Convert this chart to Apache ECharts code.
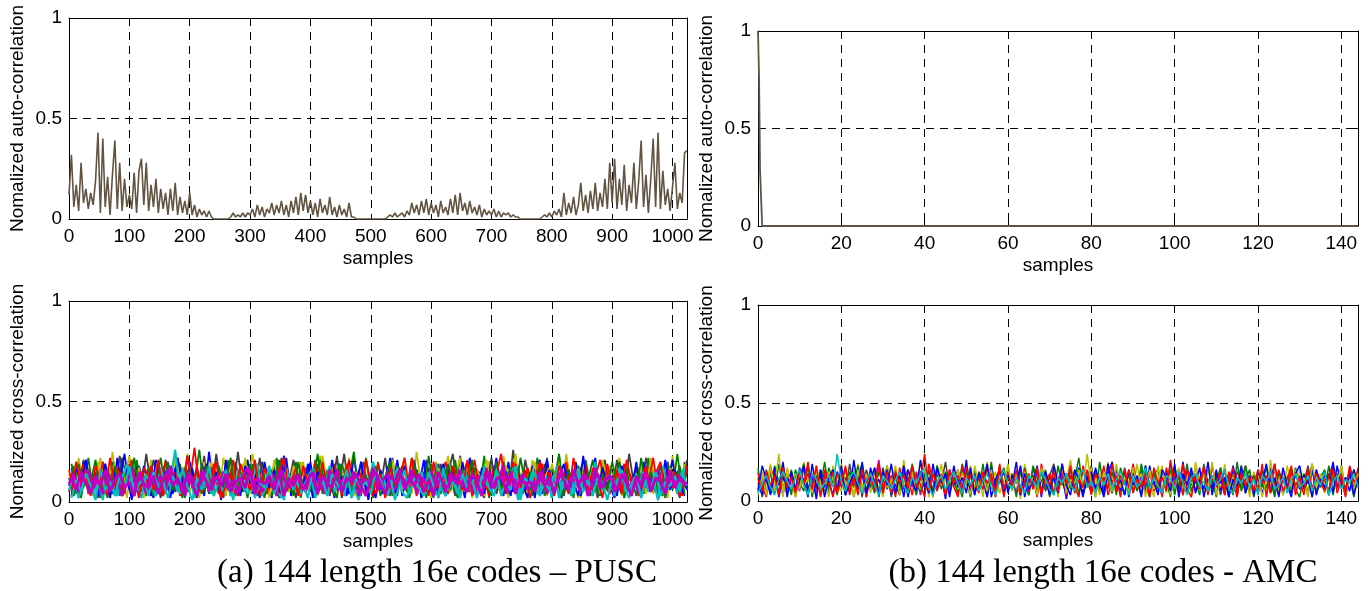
<!DOCTYPE html>
<html><head><meta charset="utf-8">
<script src="https://cdn.jsdelivr.net/npm/echarts@6/dist/echarts.min.js"></script>
<style>html,body{margin:0;padding:0;background:#fff}#c{width:1369px;height:591px}</style>
</head><body><div id="c"></div>
<script>
// ---------------- DATA ----------------
// (a) PUSC auto-correlation, one value every 4 samples (0..1024)
const autoPUSCStep = 4;
const autoPUSC = [
0.12,0.32,0.06,0.17,0.04,0.28,0.08,0.15,0.05,0.13,0.07,0.19,0.43,0.03,0.40,0.06,0.21,0.02,0.22,0.39,0.05,0.28,0.04,0.20,0.06,
0.12,0.05,0.23,0.03,0.24,0.30,0.07,0.28,0.04,0.17,0.06,0.20,0.03,0.15,0.05,0.13,0.02,0.15,0.04,0.18,0.02,0.11,0.03,0.09,0.02,
0.13,0.02,0.07,0.01,0.05,0.02,0.04,0.01,0.04,0.01,0.00,0.00,0.00,0.00,0.00,0.00,0.00,0.01,0.03,0.01,0.02,0.01,0.03,0.01,0.03,
0.02,0.05,0.01,0.07,0.02,0.06,0.01,0.05,0.03,0.08,0.02,0.07,0.03,0.09,0.02,0.07,0.01,0.09,0.03,0.11,0.02,0.13,0.04,0.12,0.03,
0.09,0.02,0.08,0.01,0.10,0.03,0.07,0.02,0.11,0.02,0.06,0.01,0.07,0.02,0.05,0.01,0.08,0.01,0.01,0.00,0.00,0.00,0.00,0.00,0.00,
0.00,0.00,0.00,0.00,0.00,0.00,0.00,0.01,0.02,0.01,0.03,0.01,0.02,0.03,0.01,0.04,0.02,0.08,0.03,0.07,0.02,0.09,0.03,0.10,0.02,
0.08,0.03,0.07,0.01,0.09,0.03,0.06,0.02,0.10,0.03,0.12,0.02,0.13,0.04,0.08,0.02,0.09,0.03,0.06,0.02,0.07,0.01,0.05,0.02,0.04,
0.02,0.05,0.01,0.04,0.01,0.03,0.02,0.03,0.01,0.02,0.01,0.01,0.00,0.00,0.00,0.00,0.00,0.00,0.00,0.00,0.00,0.01,0.02,0.01,0.03,
0.01,0.04,0.02,0.05,0.01,0.13,0.02,0.08,0.03,0.11,0.02,0.07,0.18,0.04,0.12,0.03,0.14,0.05,0.18,0.04,0.13,0.06,0.20,0.05,0.28,
0.08,0.30,0.05,0.20,0.07,0.27,0.04,0.17,0.08,0.28,0.05,0.19,0.39,0.06,0.22,0.03,0.20,0.40,0.06,0.43,0.05,0.24,0.07,0.15,0.04,
0.16,0.28,0.05,0.13,0.08,0.33,0.34
];

// (b) AMC auto-correlation
const autoAMCx = [0, 0.25, 0.5, 1, 144];
const autoAMCy = [1, 0.77, 0.28, 0, 0];

// (a) PUSC cross-correlation, values in hundredths.
// batch 1: samples 0,8,16,...,1024 ; batch 2: samples 4,12,20,...,1020
const crossPUSCStep = 8;
const crossPUSC2Start = 4;
const crossPUSC_k = [5,18,3,21,9,14,2,20,7,16,4,22,11,3,19,6, 24,8,13,2,21,10,5,17,3,20,12,6,23,4,15,9, 2,19,7,25,5,14,11,3,20,8,16,4,22,6,13,2, 18,10,5,21,7,15,3,19,9,24,4,12,6,20,2,17, 8,14,5,22,3,18,11,6,16,2,21,9,4,19,7,13, 3,23,10,5,17,8,2,20,12,6,15,4,26,7,11,3, 19,9,5,22,2,16,8,13,4,20,6,18,3,12,10,21, 5,7,17,2,24,9,14,4,19,6,11,3,20,8,15,5, 21];
const crossPUSC_y = [14,4,22,8,17,3,20,11,5,25,7,16,2,19,9,13, 4,21,6,15,10,3,23,8,18,5,12,2,20,7,16,4, 22,9,13,3,19,6,24,10,4,17,8,21,3,14,11,5, 20,7,16,2,23,9,12,4,18,6,22,3,15,10,5,19, 8,13,3,21,6,17,11,4,25,7,14,2,20,9,16,5, 12,22,4,18,8,15,3,20,10,6,23,2,17,9,13,4, 21,7,14,3,19,11,5,24,8,16,2,20,6,13,10,4, 18,9,22,3,15,7,12,5,20,4,17,11,2,23,8,14, 6];
const crossPUSC_b = [8,16,2,20,6,12,3,18,9,4,22,7,14,1,19,5, 11,3,21,8,15,2,17,10,4,20,6,13,3,25,7,12, 5,19,2,14,9,21,4,16,6,11,2,18,8,22,3,13, 10,5,20,3,15,7,12,2,19,9,4,23,6,14,1,17, 11,4,18,7,21,3,13,8,16,2,20,5,10,14,3,19, 6,12,2,22,9,15,4,17,7,11,3,20,5,14,8,2, 18,10,4,21,6,13,2,16,9,19,3,12,7,22,4,15, 8,2,19,11,5,14,3,20,7,16,1,12,9,21,4,13, 6];
const crossPUSC_g = [12,3,19,7,22,5,14,9,2,20,11,4,17,6,21,8, 3,16,10,22,4,13,7,19,2,15,9,26,5,12,3,18, 8,21,4,14,11,2,19,6,16,9,3,22,7,13,5,20, 2,17,10,4,21,8,15,3,19,6,12,25,4,16,9,2, 20,7,14,3,18,11,5,22,8,13,2,19,10,4,16,6, 21,3,12,9,17,5,23,2,15,8,20,4,11,18,6,13, 3,22,9,5,16,12,2,19,7,14,4,21,8,11,3,18, 10,5,20,2,14,9,17,4,22,7,12,3,19,6,24,5, 15];
const crossPUSC_r = [16,6,11,19,4,14,8,20,3,13,17,7,10,21,5,15, 9,18,4,12,20,6,15,3,17,10,27,5,13,8,19,4, 14,7,21,3,11,16,6,19,9,4,15,12,20,5,10,17, 3,13,8,20,6,14,4,18,11,7,21,5,16,9,12,3, 19,8,15,4,17,10,6,22,3,13,9,18,5,11,20,7, 14,4,16,9,21,6,12,3,18,8,15,5,20,10,4,17, 7,13,19,4,11,16,6,20,3,14,9,18,5,12,21,8, 4,15,10,19,6,13,3,17,9,22,5,11,16,7,14,3, 18];
const crossPUSC_c = [6,13,2,9,16,4,11,1,15,7,3,12,19,5,10,2, 14,8,3,17,6,11,26,4,9,15,2,12,7,18,3,10, 5,13,1,16,8,4,11,19,3,9,14,6,2,17,7,12, 4,10,15,2,13,8,18,5,11,3,16,7,1,12,9,20, 6,14,3,10,17,5,2,12,8,15,4,11,19,7,3,13, 9,2,16,6,12,4,18,8,3,14,10,5,17,1,11,7, 15,4,9,13,2,18,6,11,3,16,8,12,5,20,4,10, 14,3,17,7,2,12,9,15,5,11,1,18,6,13,4,16, 8];
const crossPUSC_m = [9,14,5,12,16,7,11,4,15,8,13,3,10,17,6,12, 4,15,9,13,6,18,8,11,3,14,10,7,16,5,12,9, 15,6,11,4,13,17,8,12,5,10,14,3,16,9,7,13, 10,5,14,8,12,4,16,11,6,13,9,15,3,12,8,17, 6,11,14,5,9,13,7,16,4,12,10,15,8,11,5,14, 9,16,6,12,4,13,10,15,7,11,18,5,12,8,14,6, 11,7,15,4,13,9,16,6,12,10,5,14,8,17,7,11, 13,5,10,15,7,12,4,14,9,11,16,6,13,8,12,10, 9];
const crossPUSC2_k = [17,4,12,20,6,15,2,19,10,5,23,8,13,3,18,9, 6,21,11,3,16,7,22,4,14,9,2,19,12,5,24,8, 13,3,20,7,16,10,4,22,6,12,18,2,15,9,21,5, 11,17,3,19,8,14,5,23,2,16,10,6,20,13,4,18, 7,22,3,12,17,9,4,21,6,15,11,2,19,8,14,24, 5,13,20,3,16,10,7,22,4,12,18,6,15,2,21,9, 14,4,19,11,6,23,3,16,8,13,20,5,12,2,18,10, 6,21,4,15,9,17,3,22,11,5,14,19,7,12,2,20];
const crossPUSC2_y = [9,20,5,16,11,3,22,7,14,19,4,12,23,6,17,2, 15,10,21,4,13,8,18,3,24,9,16,6,11,20,5,14, 3,19,12,7,22,4,15,10,17,2,21,8,13,5,18,11, 20,6,14,3,23,9,17,5,12,19,2,15,8,21,4,16, 10,3,18,13,6,22,8,15,4,20,11,3,17,7,23,9, 14,5,19,2,16,11,21,6,13,3,18,9,24,4,15,8, 20,3,12,17,7,22,5,14,10,2,19,8,16,4,21,11, 6,15,3,20,9,13,18,4,22,7,11,2,17,10,5,19];
const crossPUSC2_b = [3,17,10,21,5,13,8,19,2,15,11,24,6,12,4,18, 9,2,20,7,14,4,22,10,5,17,3,12,19,8,15,1, 21,6,11,3,18,9,14,2,20,7,16,4,23,10,5,13, 8,19,2,15,11,4,21,6,13,3,17,9,20,5,12,2, 16,7,22,4,10,18,3,14,8,21,5,12,2,19,9,15, 4,20,7,13,2,17,10,5,22,8,15,3,18,11,6,14, 2,21,9,16,4,12,19,6,10,3,23,7,14,5,17,8, 13,3,18,10,5,20,2,15,8,12,4,21,6,16,9,3];
const crossPUSC2_g = [19,8,2,16,10,21,4,13,7,18,3,15,9,22,5,11, 17,3,14,8,20,6,12,2,23,9,16,4,18,7,13,5, 10,22,3,15,7,19,5,12,2,17,9,21,6,14,3,20, 6,13,9,24,4,16,8,2,19,11,5,14,3,22,7,17, 3,12,20,6,15,9,2,18,11,4,23,7,13,5,19,10, 2,16,8,21,5,14,10,3,20,6,12,17,4,22,9,15, 7,19,3,13,10,24,5,16,2,18,8,11,21,4,14,6, 20,9,4,17,12,3,22,7,15,5,19,2,13,10,18,4];
const crossPUSC2_r = [5,20,9,14,3,18,11,6,22,8,15,4,19,12,2,17, 13,6,21,3,16,9,12,4,23,7,18,5,14,10,20,2, 8,15,4,19,12,6,21,3,17,10,5,14,22,7,13,3, 18,9,15,4,20,6,11,16,3,19,8,13,5,21,10,4, 14,2,17,9,12,22,5,16,7,11,3,20,8,15,4,18, 10,6,21,3,14,9,17,5,13,24,4,11,19,7,16,2, 12,20,6,15,3,18,10,4,22,8,13,5,17,11,2,19, 7,16,4,21,9,12,3,18,6,14,20,5,10,15,3,17];
const crossPUSC2_c = [2,11,5,14,8,1,16,6,10,3,13,7,18,4,9,12, 3,15,7,10,2,13,5,17,8,1,12,6,14,4,11,9, 16,3,9,12,5,15,2,10,7,18,4,11,1,14,6,13, 8,2,17,5,11,3,14,9,6,16,2,12,7,10,4,15, 11,5,13,1,9,16,4,12,7,3,15,8,2,17,6,10, 4,14,7,11,2,13,9,5,16,3,10,6,18,1,12,8, 15,3,10,6,14,2,12,8,4,17,5,11,3,13,9,1, 12,7,16,4,9,14,2,11,6,15,3,10,8,13,5,17];
const crossPUSC2_m = [12,6,15,9,4,13,8,16,5,11,14,7,10,3,15,9, 7,13,4,11,16,8,12,5,14,9,3,15,10,6,13,8, 14,5,10,12,7,16,4,11,9,13,6,15,3,12,8,14, 6,11,15,4,13,9,7,16,5,12,10,14,8,3,11,15, 9,4,13,10,16,6,12,8,14,5,11,3,15,9,7,13, 12,8,5,14,10,3,16,7,11,13,6,15,4,12,9,10, 5,15,8,12,4,14,11,6,16,9,13,3,10,14,7,12, 11,6,14,9,3,13,8,15,5,12,10,4,16,7,13,8];

// (b) AMC cross-correlation, values in hundredths, one value per sample (0..144)
const crossAMCStep = 1;
const crossAMC_k = [12,4,16,7,14,3,17,9,5,15,8,18,4,13,6,16, 10,3,15,8,12,5,19,7,14,2,16,9,11,4,17,6, 13,8,3,15,10,18,5,12,7,16,4,14,9,20,6,11, 3,17,8,13,5,15,10,2,18,7,12,4,16,9,14,6, 11,3,17,8,15,5,13,19,6,10,3,16,8,14,4,12, 18,7,11,4,15,9,13,3,17,6,12,8,16,5,14,10, 4,15,7,19,9,12,3,16,8,13,5,17,10,6,14,3, 12,8,16,5,11,18,4,14,9,13,6,17,3,15,10,7, 16,5,13,9,18,4,11,7,15,3,14,8,12,6,17,9, 10];
const crossAMC_y = [6,13,3,17,8,24,5,14,10,2,16,7,12,4,18,9, 3,15,11,6,19,8,13,2,16,5,12,9,17,4,14,7, 10,18,3,12,7,15,5,20,9,13,2,16,8,11,4,17, 6,14,10,3,18,8,12,5,16,2,13,9,19,6,11,4, 15,7,12,3,17,10,8,14,5,18,4,11,9,16,6,24, 8,13,3,15,10,5,19,7,12,4,17,9,14,2,16,6, 11,18,4,13,8,15,3,12,9,17,5,14,7,20,3,10, 16,6,12,9,18,4,13,7,15,2,11,8,17,5,14,10, 4,16,8,12,3,19,7,13,10,5,15,9,18,4,11,6, 14];
const crossAMC_b = [9,3,14,6,17,2,12,8,15,4,11,18,5,13,1,16, 7,10,3,15,9,12,4,21,6,14,2,17,8,11,5,16, 3,13,9,18,2,12,6,15,10,4,19,7,13,1,16,8, 11,5,21,3,14,8,12,2,17,6,10,15,4,13,9,18, 2,12,7,16,5,11,3,18,9,14,1,13,8,17,4,10, 15,6,12,3,19,8,11,5,16,2,14,9,13,4,18,7, 10,3,15,8,12,6,20,4,13,9,17,2,11,7,16,5, 12,2,18,9,14,4,11,7,16,3,13,10,19,5,12,8, 2,15,6,13,9,17,3,11,7,14,4,18,8,12,5,16, 9];
const crossAMC_g = [15,7,12,4,18,9,13,3,16,6,11,19,5,14,8,12, 4,17,10,6,13,3,15,9,18,5,12,7,16,2,14,10, 6,13,4,17,8,11,3,15,9,12,5,18,7,14,4,16, 10,2,15,8,13,6,19,4,12,9,16,3,14,7,11,5, 17,9,13,4,15,7,12,3,18,8,14,6,11,22,5,13, 9,16,4,12,7,15,3,17,10,13,5,11,8,18,4,14, 6,12,9,16,3,14,8,19,5,11,7,15,4,13,10,17, 3,14,8,12,6,18,9,13,4,16,7,11,2,15,10,12, 5,17,9,13,4,15,8,11,6,18,3,14,7,12,9,16, 8];
const crossAMC_r = [11,5,15,8,13,3,17,7,12,4,16,9,14,6,18,2, 13,8,15,4,11,17,6,12,3,16,9,14,5,19,7,12, 4,15,9,13,6,18,7,11,24,5,14,8,12,3,16,9, 13,5,17,7,11,4,15,9,14,2,18,6,12,8,16,4, 10,14,6,17,3,12,8,15,5,13,9,18,4,11,7,16, 3,14,9,12,6,19,5,13,8,16,4,11,7,15,2,17, 9,12,5,21,8,14,3,16,10,13,6,18,4,12,9,15, 6,11,17,3,14,8,12,5,16,9,13,4,19,7,11,6, 15,8,12,3,17,6,14,9,11,5,16,7,13,4,18,10, 12];
const crossAMC_c = [4,9,13,7,3,11,15,10,6,12,16,8,3,14,11,6, 9,13,7,24,10,5,12,15,9,4,11,14,8,3,13,10, 6,11,15,8,4,12,9,14,17,7,3,10,13,6,11,15, 9,4,12,8,13,5,10,14,7,3,11,16,9,6,12,8, 4,13,10,7,15,11,6,3,12,9,14,8,5,13,16,7, 10,4,12,8,14,6,11,15,9,3,13,7,10,17,6,12, 8,4,13,11,6,15,9,3,12,14,7,10,5,13,8,11, 16,6,4,12,9,14,7,11,3,13,10,15,6,8,12,4, 11,14,7,9,13,5,12,8,15,3,10,13,6,11,9,14, 7];
const crossAMC_m = [7,12,4,15,9,11,3,14,8,13,5,17,7,10,4,12, 14,6,11,8,16,3,13,9,12,5,15,7,10,21,4,12, 8,14,5,11,16,7,13,3,12,9,15,6,10,14,4,11, 16,7,12,5,13,9,11,3,15,8,14,6,12,10,4,17, 7,11,13,5,10,15,8,12,4,14,9,11,6,16,3,12, 9,14,6,10,13,4,16,8,11,5,15,7,12,9,3,14, 10,6,13,8,15,4,11,9,14,5,12,17,7,10,3,13, 8,12,5,15,9,11,4,14,7,13,6,10,16,3,12,9, 14,6,11,8,13,4,15,9,10,5,12,7,14,3,11,8, 13];
const crossAMC2_y = [3,15,8,19,5,12,2,17,9,14,6,20,4,11,16,7, 13,2,18,9,5,15,11,3,19,7,14,4,16,10,2,18, 8,12,5,21,3,14,10,6,17,2,15,9,19,4,12,7, 16,3,11,18,6,13,2,20,8,15,4,10,17,5,14,1, 19,7,12,3,16,9,5,18,2,13,10,21,6,15,4,11, 17,2,14,8,20,5,12,3,16,9,6,19,4,13,10,2, 18,6,15,3,11,17,7,13,2,20,9,4,16,8,12,5, 19,3,14,10,6,17,2,15,8,12,4,21,7,13,3,18, 9,5,16,11,2,19,7,14,4,12,17,6,10,3,15,8, 13];
const crossAMC2_g = [17,2,10,14,4,19,7,12,3,16,9,5,18,2,13,8, 20,5,11,3,17,8,14,2,12,19,6,10,4,15,9,18, 2,16,7,13,3,19,9,5,14,11,2,18,6,15,8,12, 4,19,10,2,16,7,13,5,20,3,11,17,6,14,2,15, 9,3,18,12,5,16,2,13,8,19,4,11,15,3,17,7, 13,2,20,6,11,4,17,9,3,15,12,5,19,8,2,14, 16,5,10,2,18,7,13,4,15,11,3,19,6,12,2,17, 8,14,3,20,5,11,16,2,13,7,18,4,10,15,3,12, 17,6,2,14,9,19,4,12,16,3,11,7,18,5,13,2, 15];
const crossAMC2_b = [5,18,11,3,14,8,20,2,13,6,17,10,2,19,7,14, 2,12,16,5,18,3,9,14,6,20,4,11,17,3,15,8, 19,4,13,2,16,10,5,21,7,12,3,17,9,14,2,18, 7,12,4,17,3,14,9,19,2,11,16,5,13,8,20,3, 14,6,10,18,2,15,7,12,4,19,8,3,16,11,2,13, 5,17,9,2,14,20,6,11,3,16,8,13,2,18,7,10, 3,16,12,5,19,2,14,8,17,4,11,6,20,3,13,9, 16,2,11,7,18,4,13,3,15,9,19,5,12,2,17,8, 4,14,18,6,11,2,16,9,13,3,20,7,12,5,15,3, 11];
const crossAMC2_r = [14,7,2,17,11,4,19,6,13,2,15,9,20,4,12,3, 16,10,2,14,7,18,3,12,9,17,2,13,6,19,4,15, 11,2,17,6,12,3,15,8,2,19,10,5,14,3,16,7, 2,18,9,14,3,12,6,17,10,4,19,2,15,8,11,3, 16,5,12,2,19,9,14,4,11,17,3,13,7,2,18,10, 4,15,7,18,3,10,13,2,16,6,19,9,3,12,15,5, 11,2,17,8,14,4,19,6,2,13,10,16,3,18,7,12, 3,15,9,2,17,6,13,11,4,19,2,14,8,16,5,10, 18,3,12,7,15,2,16,9,5,13,19,4,11,2,14,6, 17];

// axis / text labels
const yNameAuto = 'Nomalized auto-correlation';
const yNameCross = 'Nomalized cross-correlation';
const xName = 'samples';
const captionA = '(a) 144 length 16e codes \u2013 PUSC';
const captionB = '(b) 144 length 16e codes - AMC';
const xMaxPUSC = 1024, xIntPUSC = 100;
const xMaxAMC = 144, xIntAMC = 20;

// ---------------- CHART ----------------
const F = 'Liberation Sans, Arial, sans-serif';
const C = {k:'#404040', y:'#bfbf00', b:'#0000ff', g:'#008000', r:'#ff0000', c:'#00bfbf', m:'#bf00bf'};
const AUTO_COLOR = '#625443';

const grids = [
  {left:69, top:18, width:618, height:201},
  {left:69, top:301, width:618, height:201},
  {left:758, top:31, width:600, height:195},
  {left:758, top:305, width:600, height:196}
];
const gridConf = [
  {xmax:xMaxPUSC, xint:xIntPUSC, yname:yNameAuto},
  {xmax:xMaxPUSC, xint:xIntPUSC, yname:yNameCross},
  {xmax:xMaxAMC, xint:xIntAMC, yname:yNameAuto},
  {xmax:xMaxAMC, xint:xIntAMC, yname:yNameCross}
];
const lineBlack = {color:'#000', width:1};
const dash = {show:true, lineStyle:{color:'#000', width:1, type:[8,6]}};
const xAxes = [], yAxes = [];
gridConf.forEach((g, gi) => {
  xAxes.push({gridIndex:gi, type:'value', min:0, max:g.xmax, interval:g.xint, position:'bottom',
    name:xName, nameLocation:'middle', nameGap:30,
    nameTextStyle:{fontSize:19, color:'#000', fontFamily:F},
    axisLine:{show:true, onZero:false, lineStyle:lineBlack},
    axisTick:{show:true, inside:true, length:5, lineStyle:lineBlack},
    axisLabel:{fontSize:19, color:'#000', fontFamily:F, margin:8, showMaxLabel:false,
      formatter: v => (v % g.xint === 0 ? String(v) : '')},
    splitLine:dash});
  xAxes.push({gridIndex:gi, type:'value', min:0, max:g.xmax, interval:g.xint, position:'top',
    axisLine:{show:true, onZero:false, lineStyle:lineBlack},
    axisTick:{show:true, inside:true, length:5, lineStyle:lineBlack},
    axisLabel:{show:false}, splitLine:{show:false}});
  yAxes.push({gridIndex:gi, type:'value', min:0, max:1, interval:0.5, position:'left',
    name:g.yname, nameLocation:'middle', nameGap:42, nameRotate:90,
    nameTextStyle:{fontSize:19, color:'#000', fontFamily:F},
    axisLine:{show:true, onZero:false, lineStyle:lineBlack},
    axisTick:{show:true, inside:true, length:5, lineStyle:lineBlack},
    axisLabel:{fontSize:19, color:'#000', fontFamily:F, margin:7},
    splitLine:dash});
  yAxes.push({gridIndex:gi, type:'value', min:0, max:1, interval:0.5, position:'right',
    axisLine:{show:true, onZero:false, lineStyle:lineBlack},
    axisTick:{show:true, inside:true, length:5, lineStyle:lineBlack},
    axisLabel:{show:false}, splitLine:{show:false}});
});

function line(gi, data, color, w) {
  return {type:'line', xAxisIndex:gi*2, yAxisIndex:gi*2, data:data, showSymbol:false,
    symbol:'none', lineStyle:{color:color, width:w || 1}, itemStyle:{color:color},
    animation:false, silent:true, clip:true};
}
const stepPairs = (vals, step, scale, start) => vals.map((v, i) => [(start || 0) + i * step, v * scale]);
const widthPUSC = {k:1.8, y:1.8, b:1.8, g:1.8, r:1.8, c:2.1, m:2.8};

const series = [];
series.push(line(0, stepPairs(autoPUSC, autoPUSCStep, 1), AUTO_COLOR, 1.6));
[['k',crossPUSC_k,0],['y',crossPUSC_y,0],['k',crossPUSC2_k,crossPUSC2Start],['b',crossPUSC_b,0],['g',crossPUSC_g,0],
 ['y',crossPUSC2_y,crossPUSC2Start],['r',crossPUSC_r,0],['b',crossPUSC2_b,crossPUSC2Start],['g',crossPUSC2_g,crossPUSC2Start],
 ['c',crossPUSC_c,0],['r',crossPUSC2_r,crossPUSC2Start],['m',crossPUSC_m,0],['c',crossPUSC2_c,crossPUSC2Start],['m',crossPUSC2_m,crossPUSC2Start]]
  .forEach(([k, arr, st]) => series.push(line(1, stepPairs(arr, crossPUSCStep, 0.01, st), C[k], widthPUSC[k])));
series.push(line(2, autoAMCx.map((x, i) => [x, autoAMCy[i]]), AUTO_COLOR, 1.8));
[['m',crossAMC_m],['k',crossAMC_k],['g',crossAMC2_g],['y',crossAMC2_y],['g',crossAMC_g],['b',crossAMC_b],['r',crossAMC2_r],
 ['y',crossAMC_y],['b',crossAMC2_b],['r',crossAMC_r],['c',crossAMC_c]]
  .forEach(([k, arr]) => series.push(line(3, stepPairs(arr, crossAMCStep, 0.01), C[k], 1.5)));

const chart = echarts.init(document.getElementById('c'), null, {renderer:'canvas'});
chart.setOption({
  backgroundColor:'#fff',
  animation:false,
  grid:grids,
  xAxis:xAxes,
  yAxis:yAxes,
  series:series,
  graphic:[
    {type:'text', x:437, y:573, style:{text:captionA, fontSize:33, fontFamily:'Liberation Serif, Times New Roman, serif', fill:'#000', textAlign:'center', textVerticalAlign:'middle'}},
    {type:'text', x:1103, y:573, style:{text:captionB, fontSize:33, fontFamily:'Liberation Serif, Times New Roman, serif', fill:'#000', textAlign:'center', textVerticalAlign:'middle'}}
  ]
});
</script>
</body></html>
